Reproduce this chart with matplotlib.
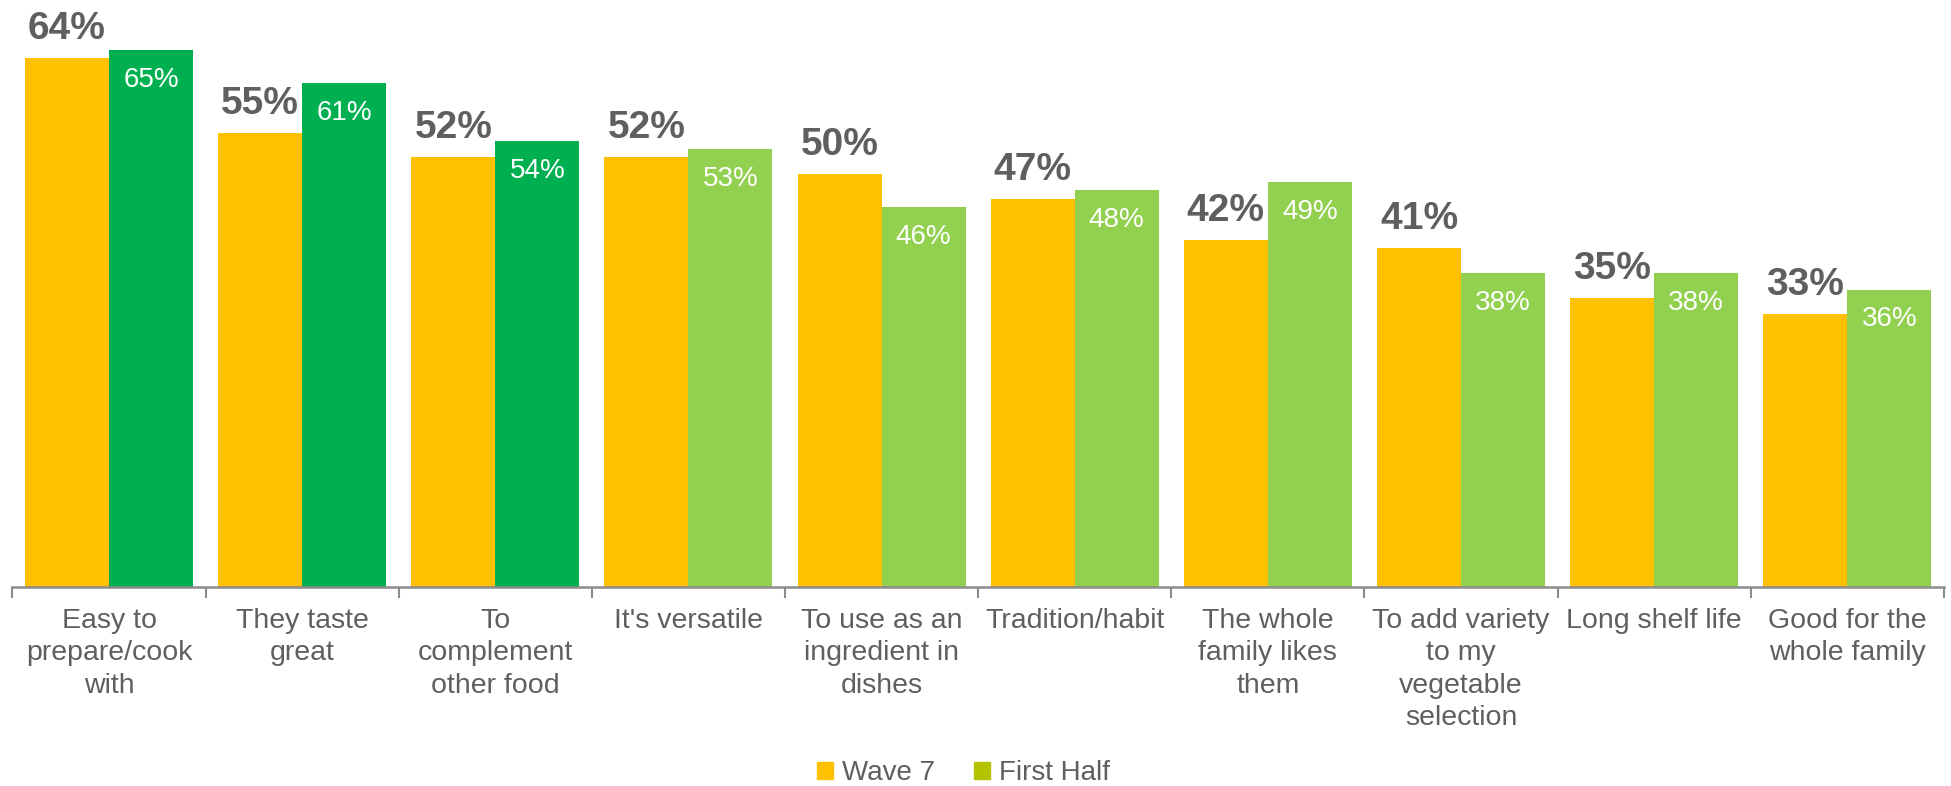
import matplotlib.pyplot as plt
import numpy as np
from matplotlib.patches import Patch

plt.rcParams['font.family'] = ['Liberation Sans', 'DejaVu Sans']

categories = [
    "Easy to\nprepare/cook\nwith",
    "They taste\ngreat",
    "To\ncomplement\nother food",
    "It's versatile",
    "To use as an\ningredient in\ndishes",
    "Tradition/habit",
    "The whole\nfamily likes\nthem",
    "To add variety\nto my\nvegetable\nselection",
    "Long shelf life",
    "Good for the\nwhole family",
]
wave7 = [64, 55, 52, 52, 50, 47, 42, 41, 35, 33]
first_half = [65, 61, 54, 53, 46, 48, 49, 38, 38, 36]
# top three reasons get the darker green
highlight = [True, True, True, False, False, False, False, False, False, False]

YELLOW = '#FFC000'
DARK_GREEN = '#00B050'
LIGHT_GREEN = '#92D050'
LEGEND_GREEN = '#B5C200'
GREY = '#5F5F5F'
AXIS_GREY = '#8C8C8C'

fig = plt.figure(figsize=(19.51, 7.86), dpi=100)
ax = fig.add_axes([0.0064, 0.2532, 0.9899, 0.7468])

x = np.arange(len(categories))
w = 0.435
green_cols = [DARK_GREEN if h else LIGHT_GREEN for h in highlight]

ax.bar(x - w / 2, wave7, w, color=YELLOW, linewidth=0)
ax.bar(x + w / 2, first_half, w, color=green_cols, linewidth=0)

for xi, v in zip(x, wave7):
    ax.annotate(f"{v}%", (xi - w / 2, v), xytext=(0, 8), textcoords='offset points',
                ha='center', va='bottom', fontsize=28, fontweight='bold', color=GREY)
for xi, v in zip(x, first_half):
    ax.annotate(f"{v}%", (xi + w / 2, v), xytext=(0, -12), textcoords='offset points',
                ha='center', va='top', fontsize=20, color='white')

ax.set_xlim(-0.5, len(categories) - 0.5)
ax.set_ylim(0, 71.06)

for s in ['top', 'right', 'left']:
    ax.spines[s].set_visible(False)
ax.spines['bottom'].set_color(AXIS_GREY)
ax.spines['bottom'].set_linewidth(1.8)
ax.set_yticks([])

# boundary ticks between categories, labels at centres
ax.set_xticks(np.arange(-0.5, len(categories), 1.0))
ax.set_xticklabels([])
ax.tick_params(axis='x', which='major', length=8, width=1.5, color=AXIS_GREY, direction='out')
ax.set_xticks(x, minor=True)
ax.set_xticklabels(categories, minor=True, fontsize=20.5, color=GREY, linespacing=1.32)
ax.tick_params(axis='x', which='minor', length=0, pad=15)

handles = [Patch(color=YELLOW, label='Wave 7'), Patch(color=LEGEND_GREEN, label='First Half')]
leg = fig.legend(handles=handles, loc='center', ncol=2, frameon=False, fontsize=20,
                 handlelength=0.55, handleheight=0.55, handletextpad=0.35, columnspacing=1.4)
leg.set_bbox_to_anchor((0.494, 1 - 773 / 786), transform=fig.transFigure)
for t in leg.get_texts():
    t.set_color(GREY)

fig.savefig('out.png', dpi=100)
